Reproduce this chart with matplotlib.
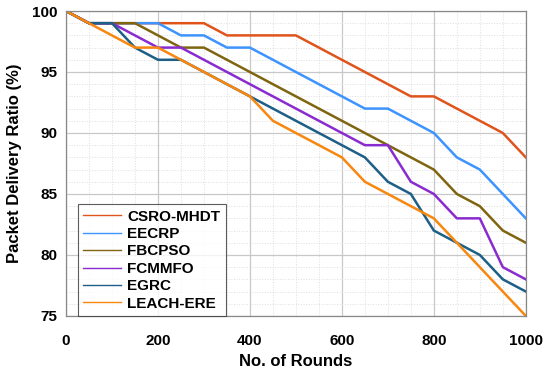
"""Packet delivery ratio versus number of rounds."""
import matplotlib
matplotlib.use('Agg')
import matplotlib.pyplot as plt
from matplotlib.lines import Line2D

rounds = [0, 50, 100, 150, 200, 250, 300, 350, 400, 450, 500,
          550, 600, 650, 700, 750, 800, 850, 900, 950, 1000]

csro_mhdt = [100, 99, 99, 99, 99, 99, 99, 98, 98, 98, 98,
             97, 96, 95, 94, 93, 93, 92, 91, 90, 88]
eecrp = [100, 99, 99, 99, 99, 98, 98, 97, 97, 96, 95,
         94, 93, 92, 92, 91, 90, 88, 87, 85, 83]
fbcpso = [100, 99, 99, 99, 98, 97, 97, 96, 95, 94, 93,
          92, 91, 90, 89, 88, 87, 85, 84, 82, 81]
fcmmfo = [100, 99, 99, 98, 97, 97, 96, 95, 94, 93, 92,
          91, 90, 89, 89, 86, 85, 83, 83, 79, 78]
egrc = [100, 99, 99, 97, 96, 96, 95, 94, 93, 92, 91,
        90, 89, 88, 86, 85, 82, 81, 80, 78, 77]
leach_ere = [100, 99, 98, 97, 97, 96, 95, 94, 93, 91, 90,
             89, 88, 86, 85, 84, 83, 81, 79, 77, 75]

names = ['CSRO-MHDT', 'EECRP', 'FBCPSO', 'FCMMFO', 'EGRC', 'LEACH-ERE']
series = [csro_mhdt, eecrp, fbcpso, fcmmfo, egrc, leach_ere]
colors = ['#E0541C', '#3D94FF', '#7F6510', '#8A2BD0', '#1D5F86', '#F7870F']

plt.rcParams['font.family'] = ['Liberation Sans', 'DejaVu Sans']

fig = plt.figure(figsize=(5.5, 3.73), dpi=100)
ax = fig.add_axes([0.12, 0.153, 0.836, 0.8175])

for vals, col in zip(series, colors):
    ax.plot(rounds, vals, color=col, linewidth=1.8)

ax.set_xlim(0, 1000)
ax.set_ylim(75, 100)
ax.set_xticks([0, 200, 400, 600, 800, 1000])
ax.set_yticks([75, 80, 85, 90, 95, 100])
ax.set_xticks(range(0, 1001, 50), minor=True)
ax.set_yticks(range(75, 101), minor=True)
ax.grid(True, which='major', color='#c8c8c8', linewidth=0.9)
ax.grid(True, which='minor', color='#dedede', linewidth=0.7, linestyle=':')
ax.set_axisbelow(True)
ax.tick_params(which='both', length=0)
ax.tick_params(axis='x', pad=13)
ax.tick_params(axis='y', pad=6)
for lbl in ax.get_xticklabels() + ax.get_yticklabels():
    lbl.set_fontweight('bold')
    lbl.set_fontsize(11)
for sp in ax.spines.values():
    sp.set_color('#888888')
    sp.set_linewidth(0.9)

ax.set_xlabel('No. of Rounds', fontsize=12, fontweight='bold', labelpad=4)
ax.set_ylabel('Packet Delivery Ratio (%)', fontsize=12, fontweight='bold', labelpad=7)

handles = [Line2D([], [], color=c, linewidth=1.0) for c in colors]
leg = ax.legend(handles, names, loc='lower left', bbox_to_anchor=(0.022, -0.005),
                prop={'weight': 'bold', 'size': 11}, frameon=True, fancybox=False,
                handlelength=2.5, handletextpad=0.4, labelspacing=0.22,
                borderpad=0.35, borderaxespad=0.1)
leg.get_frame().set_edgecolor('#333333')
leg.get_frame().set_linewidth(0.8)

fig.savefig('out.png', dpi=100)
plt.close(fig)
